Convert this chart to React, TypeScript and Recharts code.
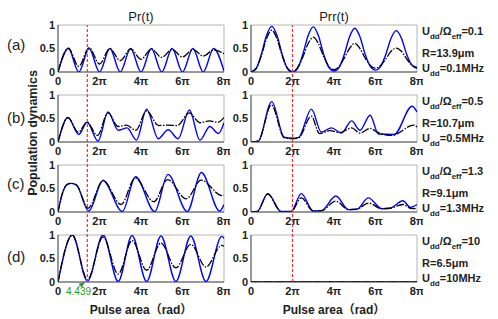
import { LineChart, Line, XAxis, YAxis, ReferenceLine } from "recharts";

// x values are in units of π (pulse area / π)
const xTicks = [0, 2, 4, 6, 8];
const yTicks = [0, 0.5, 1];
const markerRad = 4.439;
const refRight = 2;

const quarterX = [0, 0.25, 0.5, 0.75, 1, 1.25, 1.5, 1.75, 2, 2.25, 2.5, 2.75, 3, 3.25, 3.5, 3.75, 4, 4.25, 4.5, 4.75, 5, 5.25, 5.5, 5.75, 6, 6.25, 6.5, 6.75, 7, 7.25, 7.5, 7.75, 8];

// (a) Udd/Ωeff = 0.1
const aPrX = [0, 0.5, 1, 1.5, 2, 2.5, 3, 3.5, 4, 4.5, 5, 5.5, 6, 6.5, 7, 7.5, 8];
const aPrBlue = [0, 0.5, 0, 0.5, 0, 0.5, 0, 0.5, 0, 0.5, 0, 0.5, 0, 0.5, 0, 0.5, 0.02];
const aPrBlack = [0, 0.51, 0.12, 0.52, 0.17, 0.5, 0.24, 0.49, 0.27, 0.49, 0.31, 0.48, 0.32, 0.48, 0.34, 0.47, 0.39];
const aPrrBlue = [0, 0.08, 0.38, 0.78, 0.97, 0.78, 0.38, 0.08, 0, 0.08, 0.38, 0.77, 0.96, 0.77, 0.38, 0.1, 0.02, 0.1, 0.38, 0.75, 0.93, 0.75, 0.38, 0.12, 0.04, 0.12, 0.38, 0.72, 0.88, 0.72, 0.38, 0.15, 0.08];
const aPrrBlack = [0, 0.07, 0.35, 0.71, 0.89, 0.71, 0.35, 0.08, 0, 0.1, 0.32, 0.6, 0.74, 0.6, 0.33, 0.12, 0.05, 0.12, 0.3, 0.5, 0.61, 0.5, 0.3, 0.14, 0.08, 0.14, 0.28, 0.44, 0.51, 0.44, 0.28, 0.15, 0.1];

// (b) Udd/Ωeff = 0.5
const bPrBlueX = [0, 0.48, 1.0, 1.4, 1.93, 2.41, 2.9, 3.33, 3.78, 4.27, 4.83, 5.31, 5.79, 6.33, 6.84, 7.32, 7.73, 8];
const bPrBlue = [0, 0.52, 0.16, 0.42, 0.02, 0.64, 0.25, 0.3, 0.04, 0.7, 0.07, 0.26, 0.07, 0.68, 0.04, 0.33, 0.18, 0.41];
const bPrBlackX = [0, 0.48, 0.98, 1.4, 1.9, 2.41, 2.9, 3.3, 3.75, 4.27, 4.85, 5.3, 5.75, 6.33, 6.84, 7.3, 7.7, 8];
const bPrBlack = [0, 0.52, 0.21, 0.42, 0.14, 0.62, 0.33, 0.36, 0.25, 0.66, 0.35, 0.36, 0.35, 0.62, 0.41, 0.45, 0.42, 0.52];
const bPrrBlueX = [0, 0.35, 1.0, 1.6, 2.0, 2.3, 2.91, 3.39, 3.88, 4.36, 4.85, 5.25, 5.74, 6.14, 6.9, 7.76, 8];
const bPrrBlue = [0, 0.02, 0.86, 0.1, 0.08, 0.1, 0.7, 0.21, 0.3, 0.19, 0.45, 0.25, 0.57, 0.17, 0.16, 0.76, 0.64];
const bPrrBlackX = [0, 0.35, 0.98, 1.6, 2.0, 2.3, 2.91, 3.3, 3.8, 4.28, 4.85, 5.25, 5.74, 6.08, 6.79, 7.85, 8];
const bPrrBlack = [0, 0.02, 0.79, 0.09, 0.07, 0.09, 0.55, 0.18, 0.24, 0.2, 0.3, 0.19, 0.29, 0.21, 0.14, 0.36, 0.32];

// (c) Udd/Ωeff = 1.3
const cPrBlueX = [0, 0.2, 0.45, 0.65, 0.9, 1.48, 2.17, 3.1, 3.74, 4.66, 5.3, 6.23, 6.91, 7.79, 8];
const cPrBlue = [0, 0.38, 0.59, 0.61, 0.57, 0.02, 0.67, 0.01, 0.75, 0.01, 0.8, 0.01, 0.84, 0.02, 0.16];
const cPrBlackX = [0, 0.2, 0.45, 0.65, 0.9, 1.45, 2.17, 3.04, 3.72, 4.62, 5.28, 6.18, 6.9, 7.9, 8];
const cPrBlack = [0, 0.38, 0.59, 0.61, 0.57, 0.08, 0.67, 0.16, 0.72, 0.22, 0.69, 0.28, 0.68, 0.35, 0.36];
const cPrrX = [0, 0.3, 0.81, 1.45, 1.94, 2.42, 3.0, 3.4, 4.09, 4.7, 5.1, 5.66, 6.3, 6.7, 7.32, 7.68, 8];
const cPrrBlue = [0, 0.01, 0.39, 0.01, 0.01, 0.39, 0.02, 0.03, 0.34, 0.05, 0.06, 0.3, 0.07, 0.08, 0.24, 0.1, 0.16];
const cPrrBlack = [0, 0.01, 0.38, 0.01, 0.01, 0.3, 0.02, 0.03, 0.23, 0.05, 0.06, 0.19, 0.07, 0.08, 0.16, 0.08, 0.07];

// (d) Udd/Ωeff = 10
const dPrX = [0, 0.69, 1.42, 2.17, 2.9, 3.57, 4.27, 4.96, 5.68, 6.4, 7.13, 7.89, 8];
const dPrBlue = [0, 1.0, 0.02, 1.0, 0.01, 0.99, 0.01, 0.98, 0.01, 0.98, 0.01, 0.97, 0.93];
const dPrBlack = [0, 1.0, 0.05, 0.96, 0.17, 0.88, 0.25, 0.83, 0.3, 0.8, 0.32, 0.78, 0.76];
const dPrrX = [0, 8];
const dPrrBlue = [0, 0];
const dPrrBlack = [0, 0];

const ratios = ["0.1", "0.5", "1.3", "10"];
const radii = ["13.9", "10.7", "9.1", "6.5"];
const uddMHz = ["0.1", "0.5", "1.3", "10"];
const rowLabels = ["(a)", "(b)", "(c)", "(d)"];

const LEFT_X = 58;
const RIGHT_X = 251;
const PW = 166;
const PH = 47;
const ROW_TOPS = [25, 95, 165, 235];
const LABEL_Y = [45, 118, 184, 257];

const FONT = "'Liberation Sans', Arial, sans-serif";
const BLUE = "#0000ff";
const RED = "#ee3030";
const GREEN = "#2a9a2a";

const pts = (xs: number[], ys: number[]) => xs.map((x, i) => ({ x, y: ys[i] }));
const fmtX = (v: number) => (v === 0 ? "0" : `${v}π`);
const fmtY = (v: number) => String(v);
const tickStyle = { fontFamily: FONT, fontSize: 11, fontWeight: "bold", fill: "#222" };

function Arrow(props: any) {
  const { x1, y1, x2, y2 } = props;
  const ang = Math.atan2(y2 - y1, x2 - x1);
  const L = 6, W = 2.6;
  const bx = x2 - L * Math.cos(ang), by = y2 - L * Math.sin(ang);
  const px = -Math.sin(ang) * W, py = Math.cos(ang) * W;
  return (
    <g>
      <line x1={x1} y1={y1} x2={bx} y2={by} stroke={GREEN} strokeWidth={1} />
      <polygon points={`${x2},${y2} ${bx + px},${by + py} ${bx - px},${by - py}`} fill={GREEN} />
    </g>
  );
}

type PanelProps = {
  left: number; top: number;
  blue: { x: number; y: number }[]; black: { x: number; y: number }[];
  arrow?: boolean;
};

function Panel({ left, top, blue, black, arrow }: PanelProps) {
  return (
    <div style={{ position: "absolute", left: left - 40, top: top - 5 }}>
      <LineChart width={40 + PW + 6} height={5 + PH + 22} margin={{ top: 5, right: 6, left: 0, bottom: 0 }}>
        <XAxis dataKey="x" type="number" domain={[0, 8]} ticks={xTicks} interval={0} allowDataOverflow
          tickFormatter={fmtX} tickLine={false} tickSize={3} tickMargin={2} height={22}
          tick={tickStyle} stroke="#333" />
        <YAxis type="number" domain={[0, 1]} ticks={yTicks} interval={0} allowDataOverflow
          tickFormatter={fmtY} tickLine={false} tickSize={1} tickMargin={2} width={40}
          tick={tickStyle} stroke="#333" />
        <ReferenceLine y={1} stroke="#b4b4b4" />
        <ReferenceLine x={8} stroke="#b4b4b4" />
        <Line data={blue} dataKey="y" type="monotone" stroke={BLUE} strokeWidth={1.4} dot={false} isAnimationActive={false} />
        <Line data={black} dataKey="y" type="monotone" stroke="#000" strokeWidth={1.3} strokeDasharray="8 1.5 1.5 1.5" dot={false} isAnimationActive={false} />
        {arrow && (
          <ReferenceLine segment={[{ x: 0.95, y: -0.12 }, { x: 1.3, y: 0.0 }]} ifOverflow="visible" shape={Arrow} />
        )}
      </LineChart>
    </div>
  );
}

function RedLine({ left, x }: { left: number; x: number }) {
  const top = ROW_TOPS[0];
  const bottom = ROW_TOPS[3] + PH;
  return (
    <div style={{ position: "absolute", left, top, pointerEvents: "none" }}>
      <LineChart width={PW} height={bottom - top} data={[{ x: 0, y: 0 }, { x: 8, y: 1 }]} margin={{ top: 0, right: 0, left: 0, bottom: 0 }}>
        <XAxis dataKey="x" type="number" domain={[0, 8]} hide allowDataOverflow />
        <YAxis type="number" domain={[0, 1]} hide allowDataOverflow />
        <Line dataKey="y" stroke="none" dot={false} isAnimationActive={false} />
        <ReferenceLine x={x} stroke={RED} strokeWidth={1.2} strokeDasharray="3 2" />
      </LineChart>
    </div>
  );
}

const sub = (t: string) => (
  <span style={{ fontSize: 8, verticalAlign: -4 }}>{t}</span>
);

const textAbs = (left: number, cy: number, extra: any = {}) => ({
  position: "absolute" as const, left, top: cy - 7, lineHeight: "14px", whiteSpace: "nowrap" as const,
  fontFamily: FONT, color: "#222", ...extra,
});

export default function App() {
  const leftSeries = [
    [pts(aPrX, aPrBlue), pts(aPrX, aPrBlack)],
    [pts(bPrBlueX, bPrBlue), pts(bPrBlackX, bPrBlack)],
    [pts(cPrBlueX, cPrBlue), pts(cPrBlackX, cPrBlack)],
    [pts(dPrX, dPrBlue), pts(dPrX, dPrBlack)],
  ];
  const rightSeries = [
    [pts(quarterX, aPrrBlue), pts(quarterX, aPrrBlack)],
    [pts(bPrrBlueX, bPrrBlue), pts(bPrrBlackX, bPrrBlack)],
    [pts(cPrrX, cPrrBlue), pts(cPrrX, cPrrBlack)],
    [pts(dPrrX, dPrrBlue), pts(dPrrX, dPrrBlack)],
  ];

  return (
    <div style={{ position: "absolute", left: 0, top: 0, width: 498, height: 319, background: "#fff", overflow: "hidden", fontFamily: FONT }}>
      {ROW_TOPS.map((t, i) => (
        <Panel key={"l" + i} left={LEFT_X} top={t} blue={leftSeries[i][0]} black={leftSeries[i][1]} arrow={i === 3} />
      ))}
      {ROW_TOPS.map((t, i) => (
        <Panel key={"r" + i} left={RIGHT_X} top={t} blue={rightSeries[i][0]} black={rightSeries[i][1]} />
      ))}
      <RedLine left={LEFT_X} x={markerRad / Math.PI} />
      <RedLine left={RIGHT_X} x={refRight} />

      <div style={textAbs(66, 292, { fontSize: 10, color: GREEN })}>4.439</div>

      <div style={{ ...textAbs(LEFT_X + PW / 2, 17, { fontSize: 13 }), transform: "translateX(-50%)" }}>Pr(t)</div>
      <div style={{ ...textAbs(RIGHT_X + PW / 2, 17, { fontSize: 13 }), transform: "translateX(-50%)" }}>Prr(t)</div>

      {rowLabels.map((l, i) => (
        <div key={l} style={textAbs(7, LABEL_Y[i], { fontSize: 15 })}>{l}</div>
      ))}

      <div style={{ position: "absolute", left: 33, top: 133, transform: "translate(-50%, -50%) rotate(-90deg)", whiteSpace: "nowrap", fontFamily: FONT, fontWeight: "bold", fontSize: 12.5, color: "#222" }}>
        Population dynamics
      </div>

      <div style={{ ...textAbs(LEFT_X + PW / 2, 310, { fontSize: 12, fontWeight: "bold", fontFamily: FONT + ", 'Noto Sans CJK SC'" }), transform: "translateX(-50%)" }}>Pulse area（rad）</div>
      <div style={{ ...textAbs(RIGHT_X + PW / 2, 310, { fontSize: 12, fontWeight: "bold", fontFamily: FONT + ", 'Noto Sans CJK SC'" }), transform: "translateX(-50%)" }}>Pulse area（rad）</div>

      {ROW_TOPS.map((t, i) => (
        <div key={"n" + i}>
          <div style={textAbs(422, t + 6, { fontSize: 11, fontWeight: "bold" })}>U{sub("dd")}/Ω{sub("eff")}={ratios[i]}</div>
          <div style={textAbs(422, t + 28, { fontSize: 11, fontWeight: "bold" })}>R={radii[i]}μm</div>
          <div style={textAbs(422, t + 43, { fontSize: 11, fontWeight: "bold" })}>U{sub("dd")}={uddMHz[i]}MHz</div>
        </div>
      ))}
    </div>
  );
}
